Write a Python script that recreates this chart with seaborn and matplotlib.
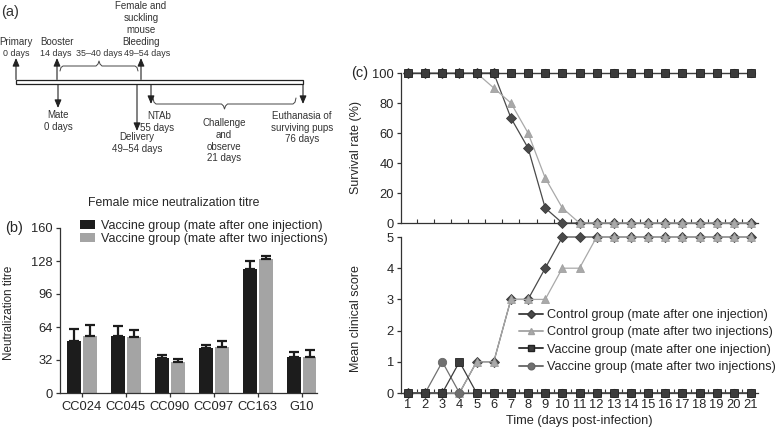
import numpy as np
import pandas as pd
import matplotlib
matplotlib.use("Agg")
import matplotlib.pyplot as plt
import seaborn as sns
from matplotlib.patches import Rectangle
from matplotlib.lines import Line2D

# ---------------- data ----------------
strains = ["CC024", "CC045", "CC090", "CC097", "CC163", "G10"]
titre_one = [50, 55.5, 33.5, 43.5, 120.5, 35]
titre_one_err = [12.5, 9, 3.3, 3.3, 7.5, 4.3]
titre_two = [55, 54, 30, 44.5, 129.5, 34.5]
titre_two_err = [10.5, 7, 2.6, 5.5, 3, 6.8]
bar_groups = ["Vaccine group (mate after one injection)",
              "Vaccine group (mate after two injections)"]

days = [1, 2, 3, 4, 5, 6, 7, 8, 9, 10, 11, 12, 13, 14, 15, 16, 17, 18, 19, 20, 21]
surv_ctrl_one = [100, 100, 100, 100, 100, 100, 70, 50, 10, 0, 0, 0, 0, 0, 0, 0, 0, 0, 0, 0, 0]
surv_ctrl_two = [100, 100, 100, 100, 100, 90, 80, 60, 30, 10, 0, 0, 0, 0, 0, 0, 0, 0, 0, 0, 0]
surv_vac_one = [100, 100, 100, 100, 100, 100, 100, 100, 100, 100, 100, 100, 100, 100, 100, 100, 100, 100, 100, 100, 100]
surv_vac_two = [100, 100, 100, 100, 100, 100, 100, 100, 100, 100, 100, 100, 100, 100, 100, 100, 100, 100, 100, 100, 100]
clin_ctrl_one = [0, 0, 0, 0, 1, 1, 3, 3, 4, 5, 5, 5, 5, 5, 5, 5, 5, 5, 5, 5, 5]
clin_ctrl_two = [0, 0, 0, 0, 1, 1, 3, 3, 3, 4, 4, 5, 5, 5, 5, 5, 5, 5, 5, 5, 5]
clin_vac_one = [0, 0, 0, 1, 0, 0, 0, 0, 0, 0, 0, 0, 0, 0, 0, 0, 0, 0, 0, 0, 0]
clin_vac_two = [0, 0, 1, 0, 0, 0, 0, 0, 0, 0, 0, 0, 0, 0, 0, 0, 0, 0, 0, 0, 0]
line_groups = ["Control group (mate after one injection)",
               "Control group (mate after two injections)",
               "Vaccine group (mate after one injection)",
               "Vaccine group (mate after two injections)"]

# ---------------- style ----------------
sns.set_theme(style="ticks")
plt.rcParams["font.family"] = ["Liberation Sans", "DejaVu Sans"]
TXT = "#262626"
SP = "#333333"
plt.rcParams.update({
    "axes.edgecolor": SP, "axes.linewidth": 0.9,
    "xtick.color": SP, "ytick.color": SP,
    "xtick.labelcolor": TXT, "ytick.labelcolor": TXT,
    "axes.labelcolor": TXT, "text.color": TXT,
})

W, H = 779, 432
fig = plt.figure(figsize=(W / 100, H / 100), dpi=100)

def fr(l, t, r, b):
    return [l / W, 1 - b / H, (r - l) / W, (b - t) / H]

# ---------------- panel (a): timeline diagram ----------------
ax0 = fig.add_axes([0, 0, 1, 1], zorder=-1)
ax0.set_xlim(0, W)
ax0.set_ylim(H, 0)
ax0.axis("off")
ax0.add_patch(Rectangle((16, 80), 287, 4, facecolor="white", edgecolor="#222", lw=0.9))

def arrow(x, y0, y1):
    ax0.annotate("", xy=(x, y1), xytext=(x, y0),
                 arrowprops=dict(arrowstyle="-|>,head_length=0.4,head_width=0.17",
                                 color="#222", lw=0.8, shrinkA=0, shrinkB=0))

for x in (16, 57, 141):
    arrow(x, 79.5, 58)
arrow(58, 84.5, 108)
arrow(137, 84.5, 131)
arrow(151, 84.5, 104)
arrow(303, 84.5, 104)

def brace(x1, x2, y0, y1, yt):
    xm = (x1 + x2) / 2
    d = 3
    xs = [x1, x1 + 1, x1 + d, xm - d, xm - 1, xm, xm + 1, xm + d, x2 - d, x2 - 1, x2]
    ys = [y0, y1 + (y0 - y1) * 0.3, y1, y1, y1 + (yt - y1) * 0.4, yt,
          y1 + (yt - y1) * 0.4, y1, y1, y1 + (y0 - y1) * 0.3, y0]
    ax0.plot(xs, ys, color="#444", lw=0.7)

brace(60, 138, 71, 66, 61)
brace(153, 296, 98, 104, 109)

fa = 7.0
labels_a = [
    ("Primary", 16, 42, fa), ("0 days", 16, 53, fa - 0.6),
    ("Booster", 57, 42, fa), ("14 days", 56, 53, fa - 0.6),
    ("35\u201340 days", 99.5, 53, fa - 0.6),
    ("Female and", 141, 6, fa), ("suckling", 141, 18, fa),
    ("mouse", 141, 30, fa), ("Bleeding", 141, 42, fa),
    ("49\u201354 days", 147, 53, fa - 0.6),
    ("Mate", 58, 115, fa), ("0 days", 58, 127, fa),
    ("NTAb", 159, 116, fa), ("55 days", 157, 128, fa),
    ("Delivery", 137, 137, fa), ("49\u201354 days", 137, 149, fa),
    ("Challenge", 224, 123, fa), ("and", 224, 135, fa),
    ("observe", 224, 147, fa), ("21 days", 224, 158, fa),
    ("Euthanasia of", 302, 116, fa), ("surviving pups", 302, 128, fa),
    ("76 days", 302, 139, fa),
]
for s, x, y, fs in labels_a:
    ax0.text(x, y, s, ha="center", va="center", fontsize=fs, color="#333")
ax0.text(1, 12, "(a)", ha="left", va="center", fontsize=10.5, color="#333")

# ---------------- panel (b): bars ----------------
axb = fig.add_axes(fr(60, 228, 317, 393))
dfb = pd.DataFrame({
    "strain": strains * 2,
    "titre": titre_one + titre_two,
    "err": titre_one_err + titre_two_err,
    "group": [bar_groups[0]] * len(strains) + [bar_groups[1]] * len(strains),
})
sns.barplot(data=dfb, x="strain", y="titre", hue="group", order=strains,
            hue_order=bar_groups, palette=["#1c1c1c", "#a4a4a4"],
            width=0.72, gap=0.12, errorbar=None, saturation=1, ax=axb,
            edgecolor="none")
bars = [p for p in axb.patches if p.get_height() > 0]
n = len(strains)
for k, (vals, errs) in enumerate([(titre_one, titre_one_err), (titre_two, titre_two_err)]):
    xs = [bars[k * n + i].get_x() + bars[k * n + i].get_width() / 2 for i in range(n)]
    axb.errorbar(xs, vals, yerr=[[0] * n, errs], fmt="none", ecolor="#1c1c1c",
                 elinewidth=1.6, capsize=3.4, capthick=1.6, zorder=1)
axb.set_xlim(-0.5, 5.35)
axb.set_ylim(0, 160)
axb.set_yticks([0, 32, 64, 96, 128, 160])
axb.tick_params(axis="both", labelsize=9.3, length=3, width=0.9, pad=2)
axb.tick_params(axis="x", pad=3)
axb.set_xlabel("")
axb.set_ylabel("Neutralization titre", fontsize=8.4)
axb.yaxis.set_label_coords(-0.175, 0.485)
sns.despine(ax=axb)
axb.legend(loc="upper left", bbox_to_anchor=(80 / W, 1 - 220 / H),
           bbox_transform=fig.transFigure, frameon=False, fontsize=9,
           handlelength=1.2, handleheight=0.75, handletextpad=0.45,
           labelspacing=0.05, borderpad=0, borderaxespad=0)
fig.text(174 / W, 1 - 203 / H, "Female mice neutralization titre", ha="center",
         va="center", fontsize=8.8)
fig.text(5 / W, 1 - 228 / H, "(b)", ha="left", va="center", fontsize=10.5)

# ---------------- panel (c): survival and clinical score ----------------
axt = fig.add_axes(fr(401, 73, 758, 223))
axc = fig.add_axes(fr(401, 237, 758, 393))

styles = {
    line_groups[0]: dict(color="#4a4a4a", marker="D", markersize=5.0, mec="#3a3a3a"),
    line_groups[1]: dict(color="#a9a9a9", marker="^", markersize=6.0, mec="#a0a0a0"),
    line_groups[2]: dict(color="#3c3c3c", marker="s", markersize=6.2, mec="#222222"),
    line_groups[3]: dict(color="#707070", marker="o", markersize=6.0, mec="#666666"),
}
draw_order = [0, 1, 3, 2]
surv = [surv_ctrl_one, surv_ctrl_two, surv_vac_one, surv_vac_two]
clin = [clin_ctrl_one, clin_ctrl_two, clin_vac_one, clin_vac_two]

for ax, series in ((axt, surv), (axc, clin)):
    for z, i in enumerate(draw_order):
        g = line_groups[i]
        st = styles[g]
        sns.lineplot(x=days, y=series[i], ax=ax, color=st["color"], marker=st["marker"],
                     markersize=st["markersize"], markeredgecolor=st["mec"],
                     markeredgewidth=0.6, lw=0.9, label=g, legend=False,
                     clip_on=False, zorder=3 + z)
    ax.set_xlim(0.59, 21.41)
    ax.set_xticks(days)
    ax.set_xticks([d + 0.5 for d in days[:-1]], minor=True)
    ax.tick_params(axis="x", which="major", length=0, pad=4, labelsize=9.3)
    ax.tick_params(axis="x", which="minor", direction="in", length=3, width=0.8, color=SP)
    ax.tick_params(axis="y", length=3, width=0.9, labelsize=9.3, pad=2)
    sns.despine(ax=ax)

axt.set_ylim(0, 100)
axt.set_yticks([0, 20, 40, 60, 80, 100])
axt.set_xticklabels([])
axt.set_ylabel("Survival rate (%)", fontsize=9)
axt.yaxis.set_label_coords(-0.108, 0.5)
axc.set_ylim(0, 5)
axc.set_yticks([0, 1, 2, 3, 4, 5])
axc.set_ylabel("Mean clinical score", fontsize=9)
axc.yaxis.set_label_coords(-0.108, 0.48)
axc.set_xlabel("Time (days post-infection)", fontsize=9.2, labelpad=3)
fig.text(351 / W, 1 - 73 / H, "(c)", ha="left", va="center", fontsize=10.5)

handles = []
for g in line_groups:
    st = styles[g]
    handles.append(Line2D([], [], color=st["color"], marker=st["marker"],
                          markersize=st["markersize"] * 0.8, markeredgecolor=st["mec"],
                          lw=1.4))
axc.legend(handles, line_groups, loc="upper left", bbox_to_anchor=(519 / W, 1 - 309 / H),
           bbox_transform=fig.transFigure, frameon=False, fontsize=9.1,
           handlelength=1.9, handletextpad=0.3, labelspacing=0.42,
           borderpad=0, borderaxespad=0)

fig.savefig("out.png", dpi=100)
